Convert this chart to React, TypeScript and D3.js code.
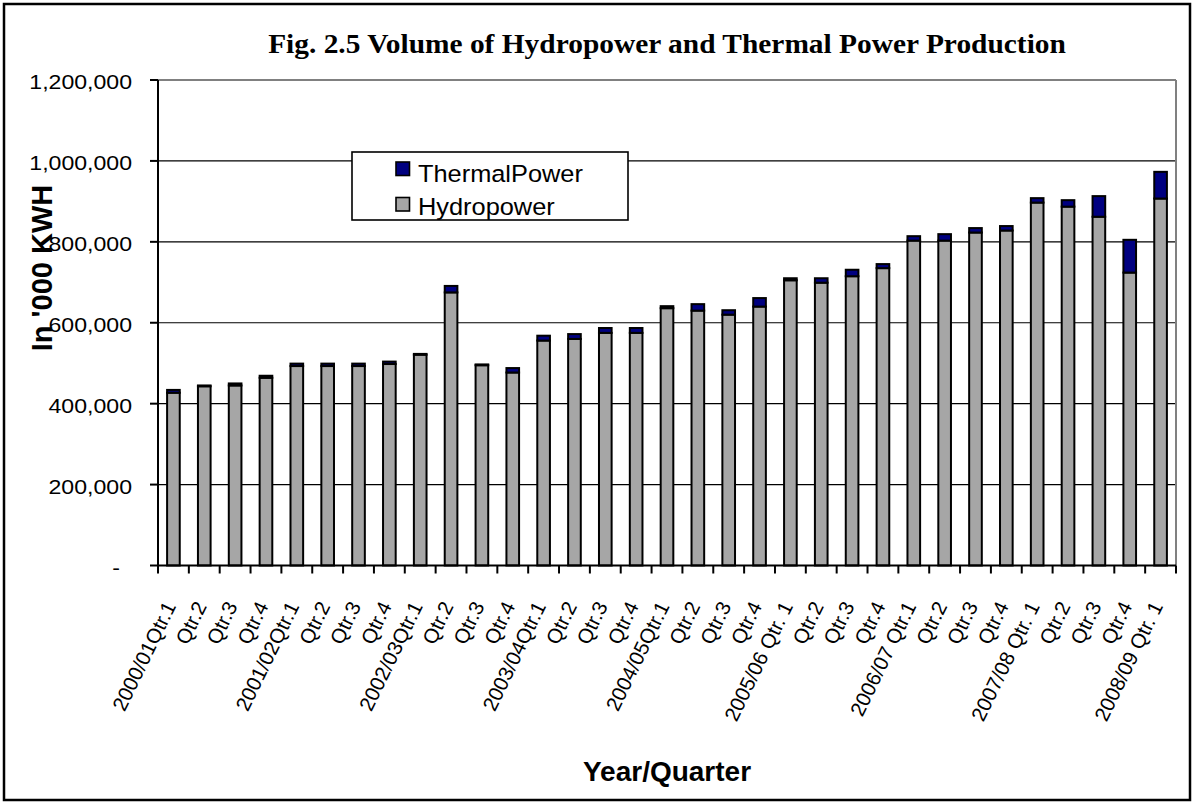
import React from "react";
import * as d3 from "d3";

const categories: string[] = [
  "2000/01Qtr.1", "Qtr.2", "Qtr.3", "Qtr.4",
  "2001/02Qtr.1", "Qtr.2", "Qtr.3", "Qtr.4",
  "2002/03Qtr.1", "Qtr.2", "Qtr.3", "Qtr.4",
  "2003/04Qtr.1", "Qtr.2", "Qtr.3", "Qtr.4",
  "2004/05Qtr.1", "Qtr.2", "Qtr.3", "Qtr.4",
  "2005/06 Qtr. 1", "Qtr.2", "Qtr.3", "Qtr.4",
  "2006/07 Qtr.1", "Qtr.2", "Qtr.3", "Qtr.4",
  "2007/08 Qtr. 1", "Qtr.2", "Qtr.3", "Qtr.4",
  "2008/09 Qtr. 1",
];

const hydropower: number[] = [
  427000, 443000, 445000, 464000,
  493000, 493000, 493000, 498000,
  521000, 675000, 495000, 477000,
  556000, 560000, 575000, 575000,
  636000, 630000, 620000, 640000,
  705000, 699000, 715000, 735000,
  803000, 803000, 823000, 828000,
  897000, 887000, 862000, 724000,
  907000,
];

const thermalPower: number[] = [
  7000, 2000, 5000, 5000,
  6000, 6000, 6000, 6000,
  2000, 16000, 2000, 11000,
  12000, 12000, 12000, 12000,
  5000, 16000, 11000, 21000,
  5000, 11000, 16000, 10000,
  11000, 16000, 11000, 11000,
  11000, 16000, 51000, 81000,
  66000,
];

const yTicks: number[] = [0, 200000, 400000, 600000, 800000, 1000000, 1200000];

const seriesKeys = ["Hydropower", "ThermalPower"];
const seriesColors: Record<string, string> = {
  Hydropower: "#A6A6A6",
  ThermalPower: "#000080",
};
const legendOrder = ["ThermalPower", "Hydropower"];

const titleText = "Fig. 2.5 Volume of Hydropower and Thermal Power Production";
const yTitle = "In '000 KWH";
const xTitle = "Year/Quarter";

const SANS = "'Liberation Sans', Arial, Helvetica, sans-serif";
const SERIF = "'Liberation Serif', 'Times New Roman', serif";

function SText(props: {
  x: number; y: number; sx?: number; rotate?: number; anchor?: string;
  size: number; weight?: string | number; family?: string; baseline?: string;
  children: React.ReactNode; dy?: string;
}) {
  const { x, y, sx = 1, rotate = 0, anchor = "start", size, weight = "normal", family = SANS, baseline, dy } = props;
  return (
    <g transform={`translate(${x},${y}) rotate(${rotate}) scale(${sx},1)`}>
      <text
        textAnchor={anchor as any}
        fontSize={size}
        fontWeight={weight as any}
        fontFamily={family}
        dominantBaseline={baseline as any}
        dy={dy}
        fill="#000"
        style={{ whiteSpace: "pre" }}
      >
        {props.children}
      </text>
    </g>
  );
}

export default function App() {
  const W = 1193;
  const H = 805;
  const left = 158;
  const right = 1176;
  const top = 80;
  const bottom = 565.5;

  const rows = categories.map((c, i) => ({
    idx: String(i),
    label: c,
    Hydropower: hydropower[i],
    ThermalPower: thermalPower[i],
  }));

  const x = d3.scaleBand<string>().domain(rows.map((r) => r.idx)).range([left, right]).padding(0);
  const y = d3.scaleLinear().domain([0, 1200000]).range([bottom, top]);
  const stack = d3.stack<any>().keys(seriesKeys);
  const stacked = stack(rows);

  const bw = x.bandwidth();
  const barW = bw * 0.41;
  const fmt = d3.format(",");

  return (
    <div style={{ position: "fixed", left: 0, top: 0 }}>
      <svg width={W} height={H} style={{ display: "block", background: "#fff" }}>
        <rect x={0} y={0} width={W} height={H} fill="#fff" />
        {/* outer border */}
        <rect x={4} y={4} width={1186} height={796} fill="none" stroke="#000" strokeWidth={2.5} />

        {/* title */}
        <SText x={(left + right) / 2} y={53} anchor="middle" size={26.5} sx={1.11} weight="bold" family={SERIF}>
          {titleText}
        </SText>

        {/* gridlines */}
        {yTicks.filter((t) => t > 0 && t < 1200000).map((t) => (
          <line key={"g" + t} x1={left} x2={right} y1={y(t)} y2={y(t)} stroke="#000" strokeWidth={1.2} />
        ))}
        {/* plot area border top/right */}
        <line x1={left} x2={right} y1={y(1200000)} y2={y(1200000)} stroke="#808080" strokeWidth={2} />
        <line x1={right} x2={right} y1={y(1200000)} y2={bottom} stroke="#808080" strokeWidth={2} />

        {/* bars */}
        {stacked.map((s) => (
          <g key={s.key}>
            {s.map((d, i) => (
              <rect
                key={i}
                x={(x(String(i)) as number) + (bw - barW) / 2}
                y={y(d[1])}
                width={barW}
                height={Math.max(0.5, y(d[0]) - y(d[1]))}
                fill={seriesColors[s.key]}
                stroke="#000"
                strokeWidth={2}
              />
            ))}
          </g>
        ))}

        {/* axes */}
        <line x1={left} x2={left} y1={top} y2={bottom + 1} stroke="#000" strokeWidth={2} />
        <line x1={left - 1} x2={right} y1={bottom} y2={bottom} stroke="#000" strokeWidth={2} />
        {yTicks.map((t) => (
          <line key={"yt" + t} x1={left - 8} x2={left} y1={y(t)} y2={y(t)} stroke="#000" strokeWidth={2} />
        ))}
        {rows.map((r, i) => (
          <line key={"xt" + i} x1={x(r.idx) as number} x2={x(r.idx) as number} y1={bottom} y2={bottom + 8} stroke="#000" strokeWidth={2} />
        ))}
        <line x1={right} x2={right} y1={bottom} y2={bottom + 8} stroke="#000" strokeWidth={2} />

        {/* y tick labels */}
        {yTicks.map((t) => (
          <SText key={"yl" + t} x={t === 0 ? 120 : 132} y={y(t) + 2} anchor="end" size={21} sx={1.1} baseline="central">
            {t === 0 ? "-" : fmt(t)}
          </SText>
        ))}

        {/* x tick labels */}
        {rows.map((r) => (
          <SText
            key={"xl" + r.idx}
            x={(x(r.idx) as number) + bw / 2 + 3}
            y={606}
            rotate={-64}
            anchor="end"
            size={20.5}
          >
            {r.label}
          </SText>
        ))}

        {/* axis titles */}
        <SText x={42} y={268} rotate={-90} anchor="middle" size={29} weight="bold" baseline="central">
          {yTitle}
        </SText>
        <SText x={(left + right) / 2} y={781} anchor="middle" size={28} weight="bold">
          {xTitle}
        </SText>

        {/* legend */}
        <rect x={352} y={152} width={276} height={68} fill="#fff" stroke="#000" strokeWidth={1.6} />
        {legendOrder.map((k, i) => (
          <g key={"lg" + k}>
            <rect x={396} y={162 + i * 35.5} width={13.5} height={13.5} fill={seriesColors[k]} stroke="#000" strokeWidth={1.6} />
            <SText x={418} y={182 + i * 33} size={23.5} sx={1.08}>
              {k}
            </SText>
          </g>
        ))}
      </svg>
    </div>
  );
}
